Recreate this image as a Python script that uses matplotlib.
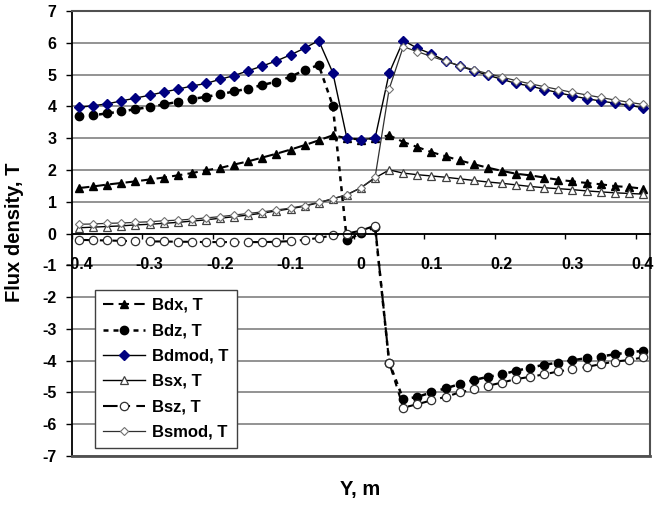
import matplotlib
matplotlib.use("Agg")
import matplotlib.pyplot as plt

plt.rcParams['font.family'] = ['Liberation Sans', 'DejaVu Sans']
plt.rcParams['font.weight'] = 'bold'
plt.rcParams['axes.unicode_minus'] = False

# Y positions, m (category axis, step 0.02)
y_pos = [round(-0.4 + 0.02 * i, 2) for i in range(41)]

bdx = [1.43, 1.48, 1.54, 1.59, 1.64, 1.70, 1.76, 1.83, 1.90, 1.99, 2.06, 2.17, 2.27, 2.39,
       2.51, 2.64, 2.78, 2.93,
       3.09, 3.00, 2.95, 3.00, 3.09,
       2.88, 2.72, 2.56, 2.43, 2.30, 2.18, 2.07, 1.97, 1.88, 1.83, 1.76, 1.69, 1.64, 1.59,
       1.55, 1.49, 1.46, 1.41]
bdz = [3.70, 3.72, 3.78, 3.84, 3.91, 3.98, 4.06, 4.14, 4.23, 4.30, 4.38, 4.47, 4.56, 4.67,
       4.78, 4.93, 5.14, 5.30,
       4.02, -0.22, 0.02, 0.20, -4.06,
       -5.22, -5.14, -5.00, -4.87, -4.74, -4.61, -4.51, -4.43, -4.32, -4.22, -4.13, -4.06,
       -3.99, -3.92, -3.87, -3.80, -3.74, -3.69]
bdmod = [3.97, 4.02, 4.08, 4.17, 4.26, 4.35, 4.45, 4.54, 4.64, 4.72, 4.85, 4.97, 5.12, 5.27,
         5.43, 5.62, 5.83, 6.07,
         5.06, 3.00, 2.95, 3.00, 5.05,
         6.07, 5.83, 5.65, 5.43, 5.27, 5.12, 4.98, 4.85, 4.72, 4.64, 4.53, 4.43, 4.33, 4.24,
         4.17, 4.10, 4.04, 3.95]
bsx = [0.18, 0.20, 0.22, 0.24, 0.27, 0.29, 0.32, 0.35, 0.39, 0.43, 0.48, 0.53, 0.58, 0.64,
       0.71, 0.78, 0.86, 0.97,
       1.09, 1.22, 1.44, 1.75, 2.00,
       1.90, 1.85, 1.81, 1.77, 1.72, 1.67, 1.62, 1.58, 1.53, 1.48, 1.44, 1.41, 1.38, 1.34,
       1.31, 1.28, 1.26, 1.24]
bsz = [-0.20, -0.21, -0.22, -0.23, -0.24, -0.25, -0.25, -0.26, -0.26, -0.27, -0.27, -0.27,
       -0.27, -0.27, -0.26, -0.24, -0.20, -0.14,
       -0.06, 0.00, 0.09, 0.25, -4.06,
       -5.48, -5.37, -5.25, -5.14, -5.00, -4.90, -4.79, -4.69, -4.58, -4.51, -4.43, -4.34,
       -4.27, -4.20, -4.11, -4.03, -3.98, -3.90]
bsmod = [0.29, 0.30, 0.32, 0.33, 0.35, 0.37, 0.40, 0.42, 0.45, 0.49, 0.53, 0.58, 0.63, 0.68,
         0.74, 0.80, 0.88, 0.98,
         1.09, 1.22, 1.44, 1.77, 4.55,
         5.88, 5.72, 5.57, 5.42, 5.28, 5.15, 5.03, 4.92, 4.81, 4.71, 4.62, 4.53, 4.44, 4.36,
         4.28, 4.20, 4.13, 4.06]

x_ticks = [-0.4, -0.3, -0.2, -0.1, 0, 0.1, 0.2, 0.3, 0.4]
x_labels = ['-0.4', '-0.3', '-0.2', '-0.1', '0', '0.1', '0.2', '0.3', '0.4']

fig = plt.figure(figsize=(6.54, 5.05), dpi=100)
ax = fig.add_axes([72 / 654, 1 - 456 / 505, 578 / 654, 445 / 505])

ax.plot(y_pos, bdx, color='black', lw=1.5, ls=(0, (5, 2.5)), marker='^', ms=6,
        mfc='black', mec='black', label='Bdx, T')
ax.plot(y_pos, bdz, color='black', lw=1.8, ls=(0, (2, 2)), marker='o', ms=6,
        mfc='black', mec='black', label='Bdz, T')
ax.plot(y_pos, bdmod, color='black', lw=1.0, ls='-', marker='D', ms=5.2,
        mfc='#000080', mec='#000080', label='Bdmod, T')
ax.plot(y_pos, bsx, color='black', lw=1.0, ls='-', marker='^', ms=6,
        mfc='white', mec='#404040', mew=0.9, label='Bsx, T')
ax.plot(y_pos, bsz, color='black', lw=1.5, ls=(0, (7, 3, 3, 3)), marker='o', ms=6,
        mfc='white', mec='#303030', mew=0.9, label='Bsz, T')
ax.plot(y_pos, bsmod, color='#303030', lw=0.9, ls='-', marker='D', ms=4.3,
        mfc='white', mec='#707070', mew=0.8, label='Bsmod, T')

ax.set_xlim(-0.41, 0.41)
ax.set_ylim(-7, 7)
ax.set_yticks(range(-7, 8))
ax.set_xticks(x_ticks)
ax.set_xticklabels(x_labels)
ax.set_xticks([-0.41 + 0.1 * k for k in range(9)], minor=True)

ax.yaxis.grid(True, color='#8a8a8a', lw=1.3)
ax.set_axisbelow(True)
# keep x tick labels above the horizontal grid lines
ax.xaxis.set_zorder(3)

ax.spines['bottom'].set_position(('data', 0))
ax.spines['bottom'].set_color('black')
ax.spines['bottom'].set_linewidth(1.3)
ax.spines['left'].set_color('black')
ax.spines['left'].set_linewidth(1.3)
for s in ['top', 'right']:
    ax.spines[s].set_color('#505050')
    ax.spines[s].set_linewidth(1.5)
ax.axhline(-7, color='#505050', lw=2.0, clip_on=False, zorder=5)

ax.tick_params(axis='x', which='major', length=0, pad=17, labelsize=11.5)
ax.tick_params(axis='x', which='minor', length=3.5, width=1.0, direction='out')
ax.tick_params(axis='y', length=4, width=1.0, direction='out', pad=7, labelsize=11.5)

fig.text(15 / 654, 1 - 232 / 505, 'Flux density, T', rotation=90, ha='center', va='center',
         fontsize=14.5, fontweight='bold')
fig.text(360 / 654, 1 - 490 / 505, 'Y, m', ha='center', va='center',
         fontsize=14.5, fontweight='bold')

leg = ax.legend(loc='lower left', bbox_to_anchor=(23 / 578, 8 / 445), borderaxespad=0,
                fancybox=False, edgecolor='#404040', framealpha=1, fontsize=12,
                labelspacing=0.62, handlelength=2.5, handletextpad=0.45, borderpad=0.5)
leg.get_frame().set_linewidth(1.0)
leg.set_zorder(6)

fig.savefig('out.png', dpi=100)
